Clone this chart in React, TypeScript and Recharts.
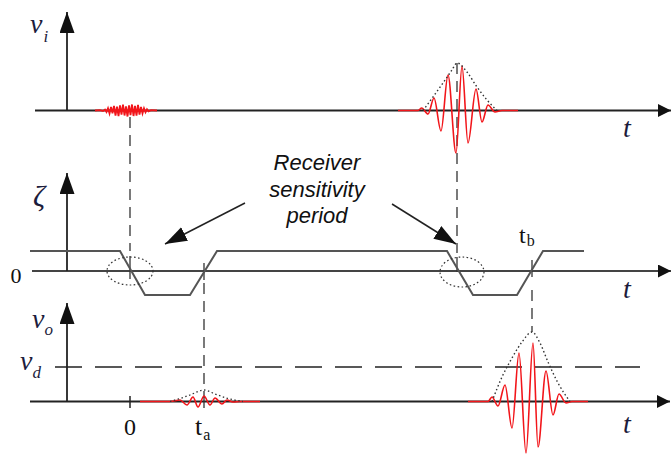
import React from 'react';
import { ComposedChart, Line, XAxis, YAxis, ReferenceLine, ReferenceDot } from 'recharts';

// time unit: arbitrary; 0 = transmit instant, ta / tb = sampling instants
const T_A = 7.4;
const T_B = 40.2;
const T_PULSE = 32.7;
const V_D = 3.45;

// input v_i : weak noise burst near t = 0
const viNoise = [
  [-3.5, 0], [-3.0, 0.03], [-2.7, -0.06], [-2.5, 0.1], [-2.35, -0.15], [-2.2, 0.22], [-2.05, -0.3],
  [-1.9, 0.35], [-1.75, -0.28], [-1.6, 0.45], [-1.45, -0.5], [-1.3, 0.38], [-1.15, -0.55], [-1.0, 0.5],
  [-0.85, -0.42], [-0.7, 0.58], [-0.55, -0.5], [-0.4, 0.4], [-0.25, -0.6], [-0.1, 0.52], [0.05, -0.45],
  [0.2, 0.6], [0.35, -0.55], [0.5, 0.45], [0.65, -0.5], [0.8, 0.55], [0.95, -0.4], [1.1, 0.35],
  [1.25, -0.3], [1.4, 0.22], [1.55, -0.18], [1.7, 0.12], [1.85, -0.08], [2.1, 0.04], [2.7, 0],
];
// input v_i : received pulse
const viPulse = [
  [26.8, 0], [28.8, 0], [29.17, 0.25], [29.8, -0.35], [30.4, 1.25], [31.1, -2.05], [31.8, 3.55],
  [32.6, -4.25], [33.2, 4.45], [33.8, -3.25], [34.6, 2.15], [35.2, -1.15], [35.8, 0.55], [36.5, -0.15],
  [37.2, 0], [38.8, 0],
];
const viEnvelope = [
  [29.3, 0.0], [30.3, 1.35], [31.3, 2.75], [32.2, 4.05], [32.7, 4.75], [33.7, 3.85], [34.7, 2.35],
  [35.7, 1.05], [36.7, 0.0],
];
// receiver gain zeta (trapezoid)
const zeta = [
  [-10, 2.0], [-1.0, 2.0], [1.5, -2.4], [6.0, -2.4], [8.7, 2.0], [31.7, 2.0], [34.3, -2.4],
  [38.7, -2.4], [41.3, 2.0], [45.4, 2.0],
];
// output v_o
const voSmall = [
  [1.0, 0], [4.0, 0], [5.0, 0.15], [5.7, -0.35], [6.3, 0.45], [6.8, -0.55], [7.4, 0.55], [8.0, -0.35],
  [8.5, 0.35], [9.2, -0.25], [9.7, 0.15], [10.3, -0.05], [11.0, 0], [13.0, 0],
];
const voSmallEnvelope = [
  [4.0, 0], [5.0, 0.3], [6.0, 0.65], [7.4, 1.15], [8.5, 0.75], [9.8, 0.3], [11.3, 0],
];
const voPulse = [
  [33.8, 0], [35.8, 0], [36.2, 0.45], [36.8, -0.45], [37.5, 1.65], [38.2, -2.65], [38.9, 4.85],
  [39.6, -5.15], [40.3, 5.85], [40.8, -4.55], [41.6, 3.05], [42.3, -1.35], [42.9, 0.75], [43.6, -0.15],
  [44.2, 0], [45.8, 0],
];
const voEnvelope = [
  [36.2, 0.0], [37.2, 2.45], [38.2, 4.35], [39.2, 5.95], [40.2, 6.95], [41.0, 5.85], [41.8, 3.95],
  [42.8, 1.85], [44.0, 0.0],
];

const annotationLines = ['Receiver', 'sensitivity', 'period'];

const mk = (arr: number[][]) => arr.map(([t, v]) => ({ t, v }));

const serif = '"Liberation Serif", "Times New Roman", serif';
const sans = '"Liberation Sans", Arial, sans-serif';
const ink = '#1c1c3c';
const axisColor = '#222';
const red = '#f2151a';

const arrowShape = (marker: string, color: string, w: number) => (p: any) => (
  <line x1={p.x1} y1={p.y1} x2={p.x2} y2={p.y2} stroke={color} strokeWidth={w} markerEnd={`url(#${marker})`} />
);

const ellipseShape = (rx: number, ry: number) => (p: any) => (
  <ellipse cx={p.cx} cy={p.cy} rx={rx} ry={ry} fill="none" stroke="#333" strokeWidth={1.2} strokeDasharray="1.6 2.4" />
);

const subLabel = (main: string, sub: string, italic: boolean, size: number, subSize: number, subDx: number, subDy: number) => (p: any) => (
  <text x={p.cx} y={p.cy} fontFamily={serif} fontStyle={italic ? 'italic' : 'normal'} fontSize={size} fill={italic ? ink : '#111'}>
    <tspan>{main}</tspan>
    <tspan dx={subDx} dy={subDy} fontSize={subSize}>{sub}</tspan>
  </text>
);

const plainLabel = (s: string, italic: boolean, size: number, anchor: string = 'start') => (p: any) => (
  <text x={p.cx} y={p.cy} fontFamily={serif} fontStyle={italic ? 'italic' : 'normal'} fontSize={size} fill={italic ? ink : '#111'} textAnchor={anchor}>
    {s}
  </text>
);

const annotationShape = (p: any) => (
  <text x={p.cx} y={p.cy} fontFamily={sans} fontStyle="italic" fontSize={22} fill="#111" textAnchor="middle">
    {annotationLines.map((s, i) => (
      <tspan key={i} x={p.cx} dy={i === 0 ? 0 : 26.5}>{s}</tspan>
    ))}
  </text>
);

const dash = '11 7';

const series = (
  id: string,
  rows: number[][],
  type: 'linear' | 'monotone',
  stroke: string,
  width: number,
  dashArray?: string,
) => (
  <Line
    yAxisId={id}
    data={mk(rows)}
    dataKey="v"
    type={type}
    stroke={stroke}
    strokeWidth={width}
    strokeDasharray={dashArray}
    dot={false}
    activeDot={false}
    legendType="none"
    isAnimationActive={false}
  />
);

export default function App() {
  return (
    <div style={{ position: 'absolute', left: 0, top: 0, width: 671, height: 455, background: '#fff' }}>
      <ComposedChart width={671} height={455} margin={{ top: 0, right: 0, bottom: 0, left: 0 }}>
        <defs>
          <marker id="arrH" markerWidth="14" markerHeight="14" refX="13" refY="6.5" orient="auto" markerUnits="userSpaceOnUse">
            <path d="M0,0 L13,6.5 L0,13 z" fill="#111" />
          </marker>
          <marker id="arrV" markerWidth="22" markerHeight="16" refX="21" refY="7.5" orient="auto" markerUnits="userSpaceOnUse">
            <path d="M0,0 L21,7.5 L0,15 z" fill="#111" />
          </marker>
          <marker id="arrA" markerWidth="24" markerHeight="16" refX="22" refY="7.5" orient="auto" markerUnits="userSpaceOnUse">
            <path d="M0,0 L22,7.5 L0,15 z" fill="#111" />
          </marker>
        </defs>
        <XAxis type="number" dataKey="t" domain={[-13, 54.1]} hide allowDataOverflow />
        <YAxis yAxisId="vi" type="number" domain={[-34.45, 11.05]} hide allowDataOverflow />
        <YAxis yAxisId="z" type="number" domain={[-18.4, 27.1]} hide allowDataOverflow />
        <YAxis yAxisId="vo" type="number" domain={[-5.35, 40.15]} hide allowDataOverflow />

        {/* axes */}
        <ReferenceLine yAxisId="vi" ifOverflow="visible" segment={[{ x: -9.5, y: 0 }, { x: 54.1, y: 0 }]} shape={arrowShape('arrH', axisColor, 1.8)} />
        <ReferenceLine yAxisId="vi" ifOverflow="visible" segment={[{ x: -6.3, y: 0 }, { x: -6.3, y: 9.85 }]} shape={arrowShape('arrV', axisColor, 1.8)} />
        <ReferenceLine yAxisId="z" ifOverflow="visible" segment={[{ x: -9.8, y: 0 }, { x: 54.1, y: 0 }]} shape={arrowShape('arrH', '#444', 2)} />
        <ReferenceLine yAxisId="z" ifOverflow="visible" segment={[{ x: -6.3, y: 0 }, { x: -6.3, y: 9.8 }]} shape={arrowShape('arrV', axisColor, 1.8)} />
        <ReferenceLine yAxisId="vo" ifOverflow="visible" segment={[{ x: -10, y: 0 }, { x: 54.0, y: 0 }]} shape={arrowShape('arrH', axisColor, 1.8)} />
        <ReferenceLine yAxisId="vo" ifOverflow="visible" segment={[{ x: -6.3, y: 0 }, { x: -6.3, y: 9.85 }]} shape={arrowShape('arrV', axisColor, 1.8)} />

        {/* detection threshold */}
        <ReferenceLine yAxisId="vo" ifOverflow="visible" segment={[{ x: -7.5, y: V_D }, { x: 51, y: V_D }]} stroke="#222" strokeWidth={1.6} strokeDasharray="27 13" />

        {/* vertical dashed projections */}
        <ReferenceLine yAxisId="z" ifOverflow="visible" segment={[{ x: 0, y: 15.4 }, { x: 0, y: 2.0 }]} stroke="#333" strokeWidth={1.3} strokeDasharray={dash} />
        <ReferenceLine yAxisId="z" ifOverflow="visible" segment={[{ x: 0, y: 1.5 }, { x: 0, y: -0.8 }]} stroke="#333" strokeWidth={1.3} />
        <ReferenceLine yAxisId="z" ifOverflow="visible" segment={[{ x: T_A, y: 0.8 }, { x: T_A, y: -0.9 }]} stroke="#333" strokeWidth={1.3} />
        <ReferenceLine yAxisId="z" ifOverflow="visible" segment={[{ x: T_A, y: -1.2 }, { x: T_A, y: -12.7 }]} stroke="#333" strokeWidth={1.3} strokeDasharray={dash} />
        <ReferenceLine yAxisId="vo" ifOverflow="visible" segment={[{ x: T_A, y: 0.55 }, { x: T_A, y: -0.65 }]} stroke="#333" strokeWidth={1.3} />
        <ReferenceLine yAxisId="vo" ifOverflow="visible" segment={[{ x: 0, y: 0.55 }, { x: 0, y: -0.65 }]} stroke="#222" strokeWidth={1.5} />
        <ReferenceLine yAxisId="z" ifOverflow="visible" segment={[{ x: T_PULSE, y: 20.8 }, { x: T_PULSE, y: 1.8 }]} stroke="#333" strokeWidth={1.3} strokeDasharray={dash} />
        <ReferenceLine yAxisId="z" ifOverflow="visible" segment={[{ x: T_PULSE, y: 1.4 }, { x: T_PULSE, y: -0.1 }]} stroke="#333" strokeWidth={1.3} />
        <ReferenceLine yAxisId="z" ifOverflow="visible" segment={[{ x: T_B, y: 1.1 }, { x: T_B, y: -0.6 }]} stroke="#333" strokeWidth={1.3} />
        <ReferenceLine yAxisId="z" ifOverflow="visible" segment={[{ x: T_B, y: -1.9 }, { x: T_B, y: -6.1 }]} stroke="#333" strokeWidth={1.3} strokeDasharray={dash} />

        {/* annotation arrows */}
        <ReferenceLine yAxisId="z" ifOverflow="visible" segment={[{ x: 11.5, y: 6.8 }, { x: 3.5, y: 2.7 }]} shape={arrowShape('arrA', '#222', 1.5)} />
        <ReferenceLine yAxisId="z" ifOverflow="visible" segment={[{ x: 26.2, y: 6.7 }, { x: 32.6, y: 2.7 }]} shape={arrowShape('arrA', '#222', 1.5)} />

        {/* ellipses */}
        <ReferenceDot yAxisId="z" x={0} y={0} ifOverflow="visible" shape={ellipseShape(23, 14)} />
        <ReferenceDot yAxisId="z" x={33.2} y={-0.1} ifOverflow="visible" shape={ellipseShape(22, 15)} />

        {/* series */}
        {series('z', zeta, 'linear', '#555', 2)}
        {series('vi', viNoise, 'linear', red, 1.8)}
        {series('vi', viPulse, 'monotone', red, 1.6)}
        {series('vi', viEnvelope, 'monotone', '#333', 1.4, '1.5 2.5')}
        {series('vo', voSmall, 'monotone', red, 1.6)}
        {series('vo', voSmallEnvelope, 'monotone', '#333', 1.3, '1.5 2.5')}
        {series('vo', voPulse, 'monotone', red, 1.6)}
        {series('vo', voEnvelope, 'monotone', '#333', 1.4, '1.5 2.5')}

        {/* labels */}
        <ReferenceDot yAxisId="vi" x={-10} y={7.75} ifOverflow="visible" shape={subLabel('v', 'i', true, 28, 17, 1, 9)} />
        <ReferenceDot yAxisId="vi" x={49.3} y={-2.65} ifOverflow="visible" shape={plainLabel('t', true, 28)} />
        <ReferenceDot yAxisId="z" x={-9.7} y={6.5} ifOverflow="visible" shape={plainLabel('ζ', true, 30)} />
        <ReferenceDot yAxisId="z" x={-11.4} y={-1.2} ifOverflow="visible" shape={plainLabel('0', false, 22, 'middle')} />
        <ReferenceDot yAxisId="z" x={49.3} y={-2.7} ifOverflow="visible" shape={plainLabel('t', true, 28)} />
        <ReferenceDot yAxisId="z" x={38.9} y={2.8} ifOverflow="visible" shape={subLabel('t', 'b', false, 24, 16, 1, 3)} />
        <ReferenceDot yAxisId="z" x={18.7} y={10.1} ifOverflow="visible" shape={annotationShape} />
        <ReferenceDot yAxisId="vo" x={-9.8} y={7.35} ifOverflow="visible" shape={subLabel('v', 'o', true, 28, 17, 0, 7)} />
        <ReferenceDot yAxisId="vo" x={-11.0} y={3.15} ifOverflow="visible" shape={subLabel('v', 'd', true, 28, 17, 0, 8)} />
        <ReferenceDot yAxisId="vo" x={0} y={-3.35} ifOverflow="visible" shape={plainLabel('0', false, 24, 'middle')} />
        <ReferenceDot yAxisId="vo" x={6.5} y={-3.35} ifOverflow="visible" shape={subLabel('t', 'a', false, 26, 16, 1, 5)} />
        <ReferenceDot yAxisId="vo" x={49.3} y={-3.15} ifOverflow="visible" shape={plainLabel('t', true, 28)} />
      </ComposedChart>
    </div>
  );
}
